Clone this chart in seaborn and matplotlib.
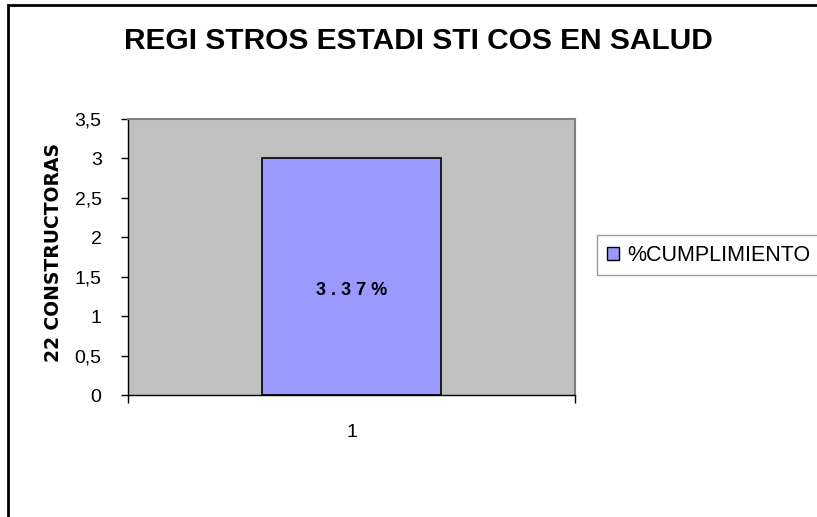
import matplotlib
matplotlib.use("Agg")
import matplotlib.pyplot as plt
import matplotlib.patches as mpatches
import seaborn as sns
import pandas as pd

categories = ["1"]
values = [3]
series_name = "%CUMPLIMIENTO"
bar_label = "3 . 3 7 %"
y_ticks = [0, 0.5, 1, 1.5, 2, 2.5, 3, 3.5]
y_tick_labels = ["0", "0,5", "1", "1,5", "2", "2,5", "3", "3,5"]
title = "REGI STROS ESTADI STI COS EN SALUD"
y_label = "22 CONSTRUCTORAS"

sns.set_style("white")
plt.rcParams["font.family"] = ["Liberation Sans", "DejaVu Sans"]
plt.rcParams["text.color"] = "black"
plt.rcParams["axes.labelcolor"] = "black"
plt.rcParams["xtick.color"] = "black"
plt.rcParams["ytick.color"] = "black"

df = pd.DataFrame({"cat": categories, "val": values})

fig = plt.figure(figsize=(8.17, 5.17), dpi=100)
ax = fig.add_axes([128/817, 1-395/517, (575-128)/817, (395-119)/517])
ax.set_facecolor("#C0C0C0")

sns.barplot(data=df, x="cat", y="val", ax=ax, color="#9999FF", width=0.4,
            edgecolor="black", linewidth=1.2, saturation=1)

ax.set_xlim(-0.5, 0.5)
ax.set_ylim(0, 3.5)
ax.set_yticks(y_ticks)
ax.set_yticklabels(y_tick_labels, fontsize=14)
ax.set_xticks([-0.5, 0.5], minor=False)
ax.set_xticklabels(["", ""])
ax.set_xticks([0], minor=True)
ax.set_xticklabels(categories, minor=True, fontsize=14)
ax.tick_params(axis="x", which="major", length=6, width=1, color="black", direction="out", bottom=True)
ax.tick_params(axis="x", which="minor", length=0, pad=21)
ax.tick_params(axis="y", length=5, width=1, color="black", direction="out", left=True, pad=14)

for s in ["top", "right"]:
    ax.spines[s].set_color("#808080")
    ax.spines[s].set_linewidth(1.5)
for s in ["left", "bottom"]:
    ax.spines[s].set_color("black")
    ax.spines[s].set_linewidth(1)
    ax.spines[s].set_visible(True)

ax.set_xlabel("")
ax.set_ylabel("")
fig.text(54/817, 1-253/517, y_label, rotation=90, ha="center", va="center",
         fontsize=13.5, fontweight="bold", family=["DejaVu Sans"])

ax.text(0, 1.33, bar_label, ha="center", va="center", fontsize=13, fontweight="bold")

fig.text(418/817, 1-41/517, title, ha="center", va="center", fontsize=21.5, fontweight="bold")

handle = mpatches.Patch(facecolor="#9999FF", edgecolor="black", linewidth=1, label=series_name)
leg = fig.legend(handles=[handle], loc="upper left", bbox_to_anchor=(597/817, 1-235/517),
                 frameon=True, fancybox=False, fontsize=15.5, handlelength=0.55, handleheight=0.55,
                 handletextpad=0.4, borderpad=0.45, borderaxespad=0)
leg.get_frame().set_edgecolor("#808080")
leg.get_frame().set_linewidth(1)

fig.patches.append(mpatches.Rectangle((8/817, -0.1), 1.2, 1.1 - 5/517, transform=fig.transFigure,
                                      fill=False, edgecolor="black", linewidth=2, figure=fig))

fig.savefig("out.png", dpi=100)
